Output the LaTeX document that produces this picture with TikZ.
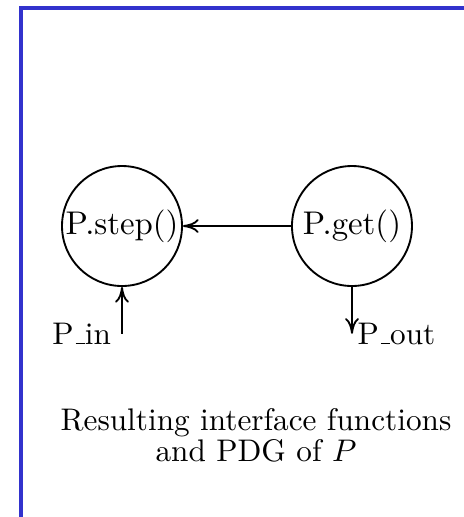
\documentclass[tikz,border=0pt]{standalone}
\usepackage{tikz}
\usetikzlibrary{arrows.meta,positioning,calc}
\definecolor{frameblue}{RGB}{50,50,205}
\newcommand\lowbar{\leavevmode\kern.06em\vbox{\hrule width.3em}}
\tikzset{
  func/.style={circle,draw,line width=0.6pt,minimum size=38.4pt,inner sep=0pt},
  flow/.style={->,line width=0.6pt},
}

\begin{document}
\begin{tikzpicture}[x=0.32pt,y=-0.32pt,>={To[length=5pt,width=4.4pt]}]
  \useasboundingbox (0,0) rectangle (464,517);
  \fill[frameblue] (19,6) rectangle (464,10);
  \fill[frameblue] (19,6) rectangle (23,517);
  \node[func,font=\fontsize{10.5}{12}\selectfont] (step) at (122,226) {P.step()};
  \node[func,font=\fontsize{10.5}{12}\selectfont,right=34.6pt of step] (get) {P.get()};
  \coordinate[below=15pt of step] (pin);
  \coordinate[below=15pt of get] (pout);
  \node[left=0pt of pin] (inlab) {P\lowbar in};
  \node[right=-1.7pt of pout] (outlab) {P\lowbar out};
  \draw[flow] (get) -- (step);
  \draw[flow] (pin) -- (step);
  \draw[flow] (get) -- (pout);
  \node[align=center] (caption) at (256,435) {Resulting interface functions\\[-2pt]and PDG of $P$};
\end{tikzpicture}
\end{document}
